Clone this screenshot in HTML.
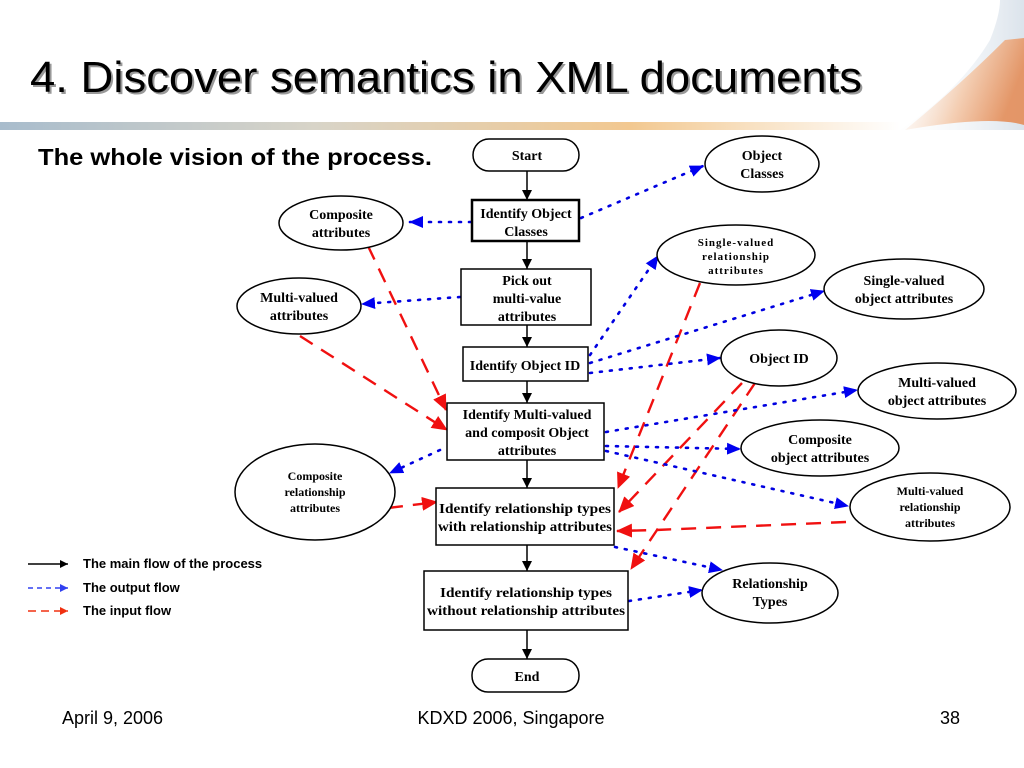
<!DOCTYPE html>
<html><head><meta charset="utf-8"><style>
html,body{margin:0;padding:0;background:#fff;}
svg{display:block;}
.n{font-family:"Liberation Serif",serif;font-weight:bold;font-size:14px;fill:#000;text-anchor:middle;}
.s{font-family:"Liberation Serif",serif;font-weight:bold;font-size:11px;fill:#000;text-anchor:middle;letter-spacing:1px;}
.b{stroke:#0000e0;stroke-width:2.6;stroke-dasharray:2 8;stroke-linecap:round;fill:none;}
.r{stroke:#f01010;stroke-width:2.4;stroke-dasharray:15 10;fill:none;}
.k{stroke:#000;stroke-width:1.5;fill:none;}
.box{fill:#fff;stroke:#000;stroke-width:1.5;}
</style></head><body>
<svg width="1024" height="768" viewBox="0 0 1024 768" xmlns="http://www.w3.org/2000/svg">
<defs>
<linearGradient id="bar" x1="0" x2="1" y1="0" y2="0">
<stop offset="0" stop-color="#a8bccc"/><stop offset="0.35" stop-color="#d8d4c8"/><stop offset="0.7" stop-color="#f2c890"/><stop offset="1" stop-color="#fff"/>
</linearGradient>
<linearGradient id="sw" x1="0" x2="1" y1="0" y2="0.3">
<stop offset="0" stop-color="#fff" stop-opacity="0"/><stop offset="0.6" stop-color="#f4c8a8"/><stop offset="1" stop-color="#e48850"/>
</linearGradient>
<linearGradient id="sw2" x1="0" x2="1" y1="0" y2="0">
<stop offset="0" stop-color="#fff" stop-opacity="0"/><stop offset="1" stop-color="#b8c8d8"/>
</linearGradient>
<marker id="ab" markerWidth="14" markerHeight="12" refX="13" refY="6" orient="auto" markerUnits="userSpaceOnUse" viewBox="0 0 14 12"><path d="M0,0 L14,6 L0,12 z" fill="#0000f0"/></marker>
<marker id="ar" markerWidth="16" markerHeight="14" refX="15" refY="7" orient="auto" markerUnits="userSpaceOnUse" viewBox="0 0 16 14"><path d="M0,0 L16,7 L0,14 z" fill="#f01010"/></marker>
<marker id="ak" markerWidth="10" markerHeight="14" refX="10" refY="5" orient="auto" markerUnits="userSpaceOnUse" viewBox="0 0 10 10"><path d="M0,0 L10,5 L0,10 z" fill="#000"/></marker>
<marker id="lk" markerWidth="8" markerHeight="8" refX="8" refY="4" orient="auto" markerUnits="userSpaceOnUse" viewBox="0 0 8 8"><path d="M0,0 L8,4 L0,8 z" fill="#000"/></marker>
<marker id="lb" markerWidth="8" markerHeight="8" refX="8" refY="4" orient="auto" markerUnits="userSpaceOnUse" viewBox="0 0 8 8"><path d="M0,0 L8,4 L0,8 z" fill="#3040f0"/></marker>
<marker id="lr" markerWidth="8" markerHeight="8" refX="8" refY="4" orient="auto" markerUnits="userSpaceOnUse" viewBox="0 0 8 8"><path d="M0,0 L8,4 L0,8 z" fill="#f03010"/></marker>
</defs>

<path d="M880,0 L1024,0 L1024,130 L900,130 Q960,90 990,40 Q1000,15 1000,0 Z" fill="url(#sw2)" opacity="0.5"/>
<path d="M905,130 Q960,85 1005,40 L1024,38 L1024,125 Q990,115 905,130 Z" fill="url(#sw)" opacity="0.85"/>
<rect x="0" y="122" width="900" height="8" fill="url(#bar)"/>

<text x="32" y="94" font-family="Liberation Sans,sans-serif" font-size="44" fill="#999" textLength="832" lengthAdjust="spacingAndGlyphs">4. Discover semantics in XML documents</text>
<text x="30" y="92" font-family="Liberation Sans,sans-serif" font-size="44" fill="#000" textLength="832" lengthAdjust="spacingAndGlyphs">4. Discover semantics in XML documents</text>

<text x="38" y="165" font-family="Liberation Sans,sans-serif" font-weight="bold" font-size="23" textLength="394" lengthAdjust="spacingAndGlyphs">The whole vision of the process.</text>

<line class="k" x1="527" y1="171" x2="527" y2="200" marker-end="url(#ak)"/>
<line class="k" x1="527" y1="241" x2="527" y2="269" marker-end="url(#ak)"/>
<line class="k" x1="527" y1="325" x2="527" y2="347" marker-end="url(#ak)"/>
<line class="k" x1="527" y1="381" x2="527" y2="403" marker-end="url(#ak)"/>
<line class="k" x1="527" y1="460" x2="527" y2="488" marker-end="url(#ak)"/>
<line class="k" x1="527" y1="545" x2="527" y2="571" marker-end="url(#ak)"/>
<line class="k" x1="527" y1="630" x2="527" y2="659" marker-end="url(#ak)"/>

<line class="r" x1="368" y1="246" x2="446" y2="410" marker-end="url(#ar)"/>
<line class="r" x1="300" y1="336" x2="447" y2="430" marker-end="url(#ar)"/>
<line class="r" x1="388" y1="508" x2="437" y2="502" marker-end="url(#ar)"/>
<line class="r" x1="700" y1="283" x2="618" y2="488" marker-end="url(#ar)"/>
<line class="r" x1="742" y1="383" x2="619" y2="512" marker-end="url(#ar)"/>
<line class="r" x1="755" y1="383" x2="631" y2="569" marker-end="url(#ar)"/>
<polyline class="r" points="846,522 656,530 617,531" marker-end="url(#ar)"/>

<line class="b" x1="581" y1="218" x2="703" y2="166" marker-end="url(#ab)"/>
<line class="b" x1="471" y1="222" x2="410" y2="222" marker-end="url(#ab)"/>
<line class="b" x1="460" y1="297" x2="362" y2="304" marker-end="url(#ab)"/>
<line class="b" x1="590" y1="355" x2="658" y2="256" marker-end="url(#ab)"/>
<line class="b" x1="590" y1="363" x2="824" y2="291" marker-end="url(#ab)"/>
<line class="b" x1="590" y1="373" x2="720" y2="358" marker-end="url(#ab)"/>
<line class="b" x1="606" y1="432" x2="857" y2="390" marker-end="url(#ab)"/>
<line class="b" x1="606" y1="446" x2="740" y2="449" marker-end="url(#ab)"/>
<line class="b" x1="606" y1="451" x2="848" y2="506" marker-end="url(#ab)"/>
<line class="b" x1="440" y1="450" x2="390" y2="473" marker-end="url(#ab)"/>
<line class="b" x1="615" y1="547" x2="722" y2="570" marker-end="url(#ab)"/>
<line class="b" x1="629" y1="601" x2="702" y2="590" marker-end="url(#ab)"/>

<rect class="box" x="473" y="139" width="106" height="32" rx="16"/>
<text class="n" x="527" y="160">Start</text>
<rect class="box" x="472" y="200" width="107" height="41" style="stroke-width:2.5"/>
<text class="n" x="526" y="218">Identify Object</text><text class="n" x="526" y="236">Classes</text>
<rect class="box" x="461" y="269" width="130" height="56"/>
<text class="n" x="527" y="285">Pick out</text><text class="n" x="527" y="303">multi-value</text><text class="n" x="527" y="321">attributes</text>
<rect class="box" x="463" y="347" width="125" height="34"/>
<text class="n" x="525" y="370">Identify Object ID</text>
<rect class="box" x="447" y="403" width="157" height="57"/>
<text class="n" x="527" y="419">Identify Multi-valued</text><text class="n" x="527" y="437">and composit Object</text><text class="n" x="527" y="455">attributes</text>
<rect class="box" x="436" y="488" width="178" height="57"/>
<text class="n" x="525" y="513" textLength="172" lengthAdjust="spacingAndGlyphs">Identify relationship types</text><text class="n" x="525" y="531" textLength="174" lengthAdjust="spacingAndGlyphs">with relationship attributes</text>
<rect class="box" x="424" y="571" width="204" height="59"/>
<text class="n" x="526" y="597" textLength="172" lengthAdjust="spacingAndGlyphs">Identify relationship types</text><text class="n" x="526" y="615" textLength="198" lengthAdjust="spacingAndGlyphs">without relationship attributes</text>
<rect class="box" x="472" y="659" width="107" height="33" rx="16"/>
<text class="n" x="527" y="681">End</text>

<ellipse class="box" cx="762" cy="164" rx="57" ry="28"/>
<text class="n" x="762" y="160">Object</text><text class="n" x="762" y="178">Classes</text>
<ellipse class="box" cx="341" cy="223" rx="62" ry="27"/>
<text class="n" x="341" y="219">Composite</text><text class="n" x="341" y="237">attributes</text>
<ellipse class="box" cx="299" cy="306" rx="62" ry="28"/>
<text class="n" x="299" y="302">Multi-valued</text><text class="n" x="299" y="320">attributes</text>
<ellipse class="box" cx="736" cy="255" rx="79" ry="30"/>
<text class="s" x="736" y="246">Single-valued</text><text class="s" x="736" y="260">relationship</text><text class="s" x="736" y="274">attributes</text>
<ellipse class="box" cx="904" cy="289" rx="80" ry="30"/>
<text class="n" x="904" y="285">Single-valued</text><text class="n" x="904" y="303">object attributes</text>
<ellipse class="box" cx="779" cy="358" rx="58" ry="28"/>
<text class="n" x="779" y="363">Object ID</text>
<ellipse class="box" cx="937" cy="391" rx="79" ry="28"/>
<text class="n" x="937" y="387">Multi-valued</text><text class="n" x="937" y="405">object attributes</text>
<ellipse class="box" cx="820" cy="448" rx="79" ry="28"/>
<text class="n" x="820" y="444">Composite</text><text class="n" x="820" y="462">object attributes</text>
<ellipse class="box" cx="930" cy="507" rx="80" ry="34"/>
<text class="s" x="930" y="495" style="letter-spacing:0;font-size:12px">Multi-valued</text><text class="s" x="930" y="511" style="letter-spacing:0;font-size:12px">relationship</text><text class="s" x="930" y="527" style="letter-spacing:0;font-size:12px">attributes</text>
<ellipse class="box" cx="315" cy="492" rx="80" ry="48"/>
<text class="s" x="315" y="480" style="letter-spacing:0;font-size:12px">Composite</text><text class="s" x="315" y="496" style="letter-spacing:0;font-size:12px">relationship</text><text class="s" x="315" y="512" style="letter-spacing:0;font-size:12px">attributes</text>
<ellipse class="box" cx="770" cy="593" rx="68" ry="30"/>
<text class="n" x="770" y="588">Relationship</text><text class="n" x="770" y="606">Types</text>

<line x1="28" y1="564" x2="68" y2="564" stroke="#000" stroke-width="1.5" marker-end="url(#lk)"/>
<line x1="28" y1="588" x2="68" y2="588" stroke="#3040f0" stroke-width="1.5" stroke-dasharray="5 4" marker-end="url(#lb)"/>
<line x1="28" y1="611" x2="68" y2="611" stroke="#f03010" stroke-width="1.5" stroke-dasharray="8 5" marker-end="url(#lr)"/>
<g font-family="Liberation Sans,sans-serif" font-weight="bold" font-size="13">
<text x="83" y="568">The main flow of the process</text>
<text x="83" y="592">The output flow</text>
<text x="83" y="615">The input flow</text>
</g>

<g font-family="Liberation Sans,sans-serif" font-size="18">
<text x="62" y="724">April 9, 2006</text>
<text x="511" y="724" text-anchor="middle">KDXD 2006, Singapore</text>
<text x="940" y="724">38</text>
</g>
</svg>
</body></html>
